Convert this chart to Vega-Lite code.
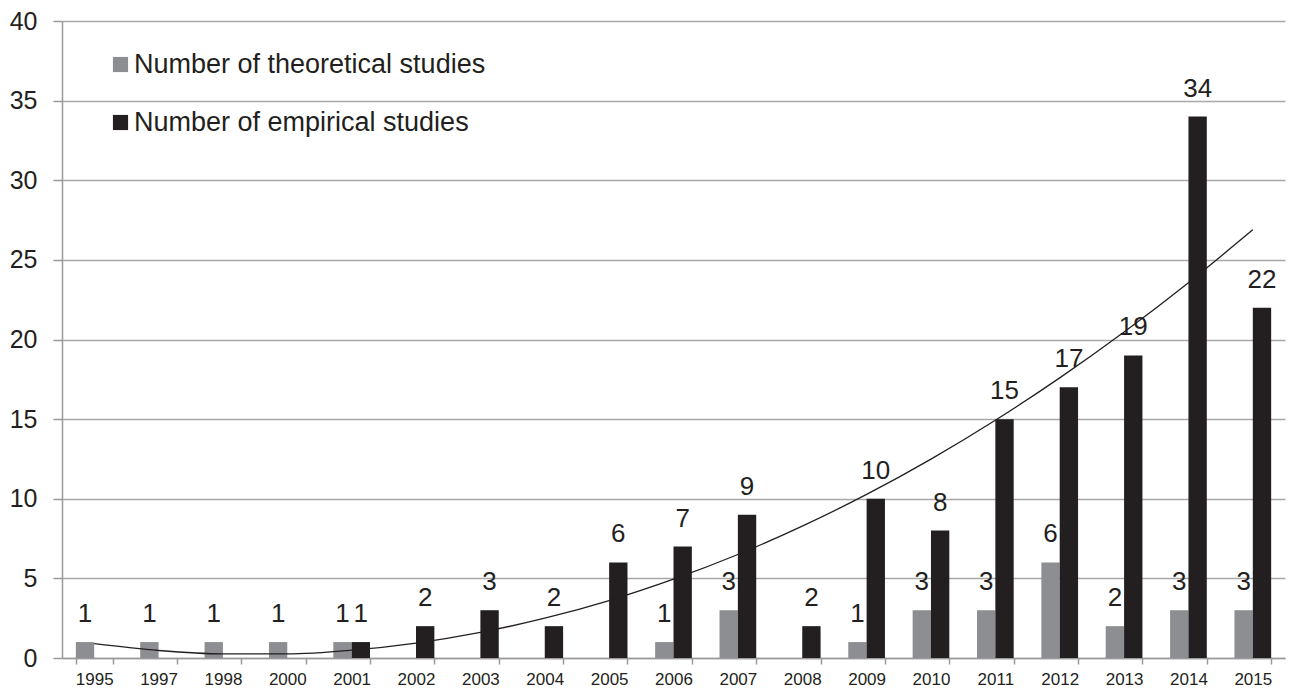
{
  "$schema": "https://vega.github.io/schema/vega-lite/v6.json",
  "width": 1223,
  "height": 637,
  "autosize": "none",
  "padding": {"left": 62, "top": 21, "right": 6, "bottom": 37},
  "background": "#ffffff",
  "config": {
    "font": "Liberation Sans",
    "view": {"stroke": null},
    "axis": {
      "domainColor": "#9a9a9a",
      "domainWidth": 1.5,
      "tickColor": "#9a9a9a",
      "tickWidth": 1.5,
      "gridColor": "#a8a8a8",
      "gridWidth": 1.4,
      "labelColor": "#231f20",
      "labelFont": "Liberation Sans",
      "title": null
    }
  },
  "datasets": {
    "studies": [
      {"year": "1995", "series": "theoretical", "count": 1},
      {"year": "1997", "series": "theoretical", "count": 1},
      {"year": "1998", "series": "theoretical", "count": 1},
      {"year": "2000", "series": "theoretical", "count": 1},
      {"year": "2001", "series": "theoretical", "count": 1},
      {"year": "2006", "series": "theoretical", "count": 1},
      {"year": "2007", "series": "theoretical", "count": 3},
      {"year": "2009", "series": "theoretical", "count": 1},
      {"year": "2010", "series": "theoretical", "count": 3},
      {"year": "2011", "series": "theoretical", "count": 3},
      {"year": "2012", "series": "theoretical", "count": 6},
      {"year": "2013", "series": "theoretical", "count": 2},
      {"year": "2014", "series": "theoretical", "count": 3},
      {"year": "2015", "series": "theoretical", "count": 3},
      {"year": "2001", "series": "empirical", "count": 1},
      {"year": "2002", "series": "empirical", "count": 2},
      {"year": "2003", "series": "empirical", "count": 3},
      {"year": "2004", "series": "empirical", "count": 2},
      {"year": "2005", "series": "empirical", "count": 6},
      {"year": "2006", "series": "empirical", "count": 7},
      {"year": "2007", "series": "empirical", "count": 9},
      {"year": "2008", "series": "empirical", "count": 2},
      {"year": "2009", "series": "empirical", "count": 10},
      {"year": "2010", "series": "empirical", "count": 8},
      {"year": "2011", "series": "empirical", "count": 15},
      {"year": "2012", "series": "empirical", "count": 17},
      {"year": "2013", "series": "empirical", "count": 19},
      {"year": "2014", "series": "empirical", "count": 34},
      {"year": "2015", "series": "empirical", "count": 22}
    ],
    "trend": [
      {"year": "1995", "fit": 0.9},
      {"year": "1997", "fit": 0.47},
      {"year": "1998", "fit": 0.26},
      {"year": "2000", "fit": 0.26},
      {"year": "2001", "fit": 0.49},
      {"year": "2002", "fit": 0.94},
      {"year": "2003", "fit": 1.61},
      {"year": "2004", "fit": 2.5},
      {"year": "2005", "fit": 3.61},
      {"year": "2006", "fit": 4.95},
      {"year": "2007", "fit": 6.5},
      {"year": "2008", "fit": 8.28},
      {"year": "2009", "fit": 10.27},
      {"year": "2010", "fit": 12.49},
      {"year": "2011", "fit": 14.93},
      {"year": "2012", "fit": 17.59},
      {"year": "2013", "fit": 20.47},
      {"year": "2014", "fit": 23.57},
      {"year": "2015", "fit": 26.89}
    ]
  },
  "encoding": {
    "x": {
      "field": "year",
      "type": "nominal",
      "sort": ["1995","1997","1998","2000","2001","2002","2003","2004","2005","2006","2007","2008","2009","2010","2011","2012","2013","2014","2015"],
      "scale": {
        "domain": ["1995","1997","1998","2000","2001","2002","2003","2004","2005","2006","2007","2008","2009","2010","2011","2012","2013","2014","2015"],
        "paddingInner": 0.43,
        "paddingOuter": 0.215
      },
      "axis": {
        "labelAngle": 0,
        "labelFontSize": 17,
        "tickSize": 6,
        "tickBand": "extent",
        "labelPadding": 7,
        "grid": false
      }
    }
  },
  "layer": [
    {
      "data": {"name": "studies"},
      "transform": [{"filter": "datum.series === 'theoretical'"}],
      "mark": {"type": "bar", "color": "#8d8e91"},
      "encoding": {
        "xOffset": {"field": "series", "type": "nominal", "scale": {"domain": ["theoretical", "empirical"], "paddingInner": 0, "paddingOuter": 0}},
        "y": {
          "field": "count",
          "type": "quantitative",
          "scale": {"domain": [0, 40], "nice": false},
          "axis": {
            "values": [0, 5, 10, 15, 20, 25, 30, 35, 40],
            "labelFontSize": 25,
            "tickSize": 9,
            "labelPadding": 16,
            "grid": true
          }
        },
        "color": {
          "field": "series",
          "type": "nominal",
          "scale": {"domain": ["theoretical", "empirical"], "range": ["#8d8e91", "#231f20"]},
          "legend": {
            "orient": "none",
            "legendX": 45,
            "legendY": 30,
            "title": null,
            "symbolType": "square",
            "symbolSize": 230,
            "symbolStrokeWidth": 0,
            "labelFontSize": 27,
            "labelColor": "#231f20",
            "labelFont": "Liberation Sans",
            "labelOffset": 0,
            "rowPadding": 30,
            "labelLimit": 600,
            "labelExpr": "'Number of ' + datum.label + ' studies'"
          }
        }
      }
    },
    {
      "data": {"name": "studies"},
      "transform": [{"filter": "datum.series === 'theoretical'"}],
      "mark": {"type": "text", "fontSize": 26, "dy": -20, "baseline": "alphabetic", "color": "#231f20"},
      "encoding": {
        "xOffset": {"field": "series", "type": "nominal", "scale": {"domain": ["theoretical", "empirical"], "paddingInner": 0, "paddingOuter": 0}},
        "y": {"field": "count", "type": "quantitative"},
        "text": {"field": "count", "type": "quantitative"}
      }
    },
    {
      "data": {"name": "studies"},
      "transform": [{"filter": "datum.series === 'empirical'"}],
      "mark": {"type": "bar", "color": "#231f20"},
      "encoding": {
        "xOffset": {"field": "series", "type": "nominal", "scale": {"domain": ["theoretical", "empirical"], "paddingInner": 0, "paddingOuter": 0}},
        "y": {"field": "count", "type": "quantitative"},
        "color": {"field": "series", "type": "nominal"}
      }
    },
    {
      "data": {"name": "studies"},
      "transform": [{"filter": "datum.series === 'empirical'"}],
      "mark": {"type": "text", "fontSize": 26, "dy": -20, "baseline": "alphabetic", "color": "#231f20"},
      "encoding": {
        "xOffset": {"field": "series", "type": "nominal", "scale": {"domain": ["theoretical", "empirical"], "paddingInner": 0, "paddingOuter": 0}},
        "y": {"field": "count", "type": "quantitative"},
        "text": {"field": "count", "type": "quantitative"}
      }
    },
    {
      "data": {"name": "trend"},
      "mark": {"type": "line", "color": "#231f20", "strokeWidth": 1.3, "interpolate": "monotone"},
      "encoding": {
        "y": {"field": "fit", "type": "quantitative"}
      }
    }
  ]
}
